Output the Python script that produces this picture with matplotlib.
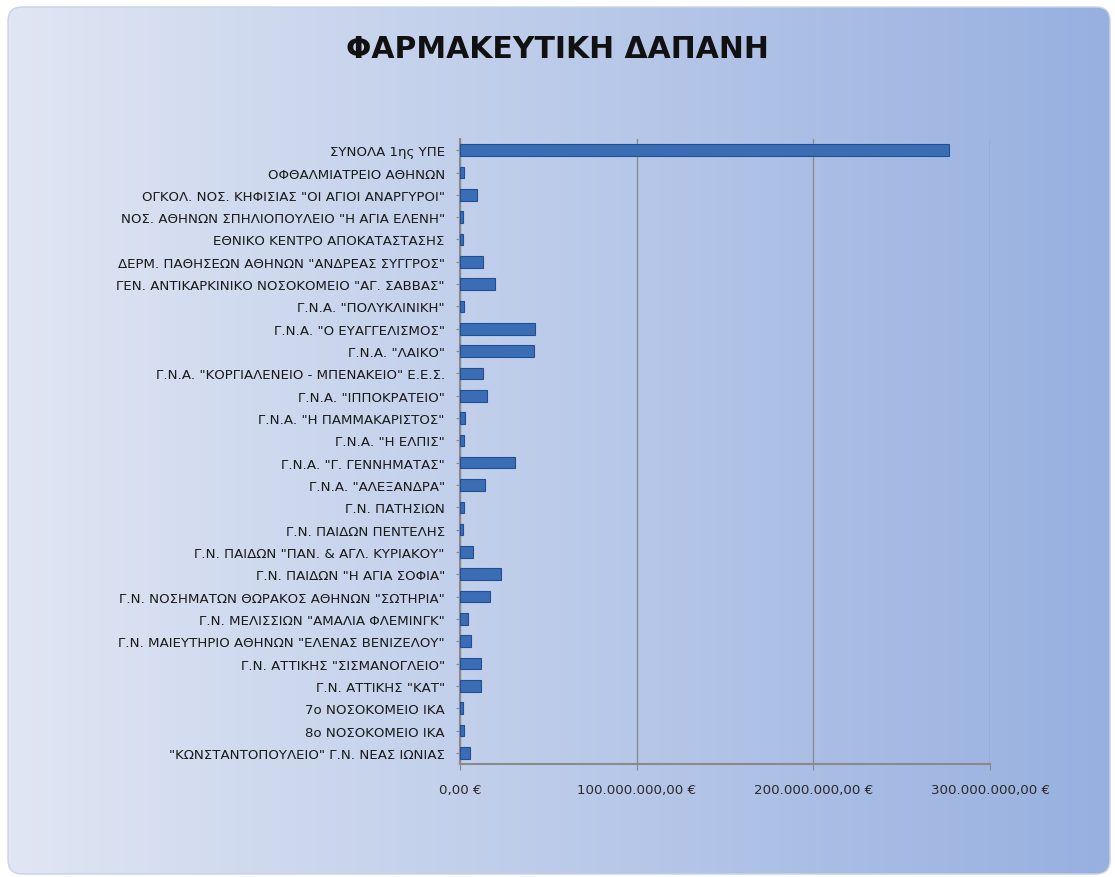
import matplotlib
matplotlib.use("Agg")
import matplotlib.pyplot as plt
import numpy as np
from matplotlib.patches import FancyBboxPatch

# hospitals (top to bottom as in the chart)
hospitals = [
    "ΣΥΝΟΛΑ 1ης ΥΠΕ",
    "ΟΦΘΑΛΜΙΑΤΡΕΙΟ ΑΘΗΝΩΝ",
    "ΟΓΚΟΛ. ΝΟΣ. ΚΗΦΙΣΙΑΣ \"ΟΙ ΑΓΙΟΙ ΑΝΑΡΓΥΡΟΙ\"",
    "ΝΟΣ. ΑΘΗΝΩΝ ΣΠΗΛΙΟΠΟΥΛΕΙΟ \"Η ΑΓΙΑ ΕΛΕΝΗ\"",
    "ΕΘΝΙΚΟ ΚΕΝΤΡΟ ΑΠΟΚΑΤΑΣΤΑΣΗΣ",
    "ΔΕΡΜ. ΠΑΘΗΣΕΩΝ ΑΘΗΝΩΝ \"ΑΝΔΡΕΑΣ ΣΥΓΓΡΟΣ\"",
    "ΓΕΝ. ΑΝΤΙΚΑΡΚΙΝΙΚΟ ΝΟΣΟΚΟΜΕΙΟ \"ΑΓ. ΣΑΒΒΑΣ\"",
    "Γ.Ν.Α. \"ΠΟΛΥΚΛΙΝΙΚΗ\"",
    "Γ.Ν.Α. \"Ο ΕΥΑΓΓΕΛΙΣΜΟΣ\"",
    "Γ.Ν.Α. \"ΛΑΙΚΟ\"",
    "Γ.Ν.Α. \"ΚΟΡΓΙΑΛΕΝΕΙΟ - ΜΠΕΝΑΚΕΙΟ\" Ε.Ε.Σ.",
    "Γ.Ν.Α. \"ΙΠΠΟΚΡΑΤΕΙΟ\"",
    "Γ.Ν.Α. \"Η ΠΑΜΜΑΚΑΡΙΣΤΟΣ\"",
    "Γ.Ν.Α. \"Η ΕΛΠΙΣ\"",
    "Γ.Ν.Α. \"Γ. ΓΕΝΝΗΜΑΤΑΣ\"",
    "Γ.Ν.Α. \"ΑΛΕΞΑΝΔΡΑ\"",
    "Γ.Ν. ΠΑΤΗΣΙΩΝ",
    "Γ.Ν. ΠΑΙΔΩΝ ΠΕΝΤΕΛΗΣ",
    "Γ.Ν. ΠΑΙΔΩΝ \"ΠΑΝ. & ΑΓΛ. ΚΥΡΙΑΚΟΥ\"",
    "Γ.Ν. ΠΑΙΔΩΝ \"Η ΑΓΙΑ ΣΟΦΙΑ\"",
    "Γ.Ν. ΝΟΣΗΜΑΤΩΝ ΘΩΡΑΚΟΣ ΑΘΗΝΩΝ \"ΣΩΤΗΡΙΑ\"",
    "Γ.Ν. ΜΕΛΙΣΣΙΩΝ \"ΑΜΑΛΙΑ ΦΛΕΜΙΝΓΚ\"",
    "Γ.Ν. ΜΑΙΕΥΤΗΡΙΟ ΑΘΗΝΩΝ \"ΕΛΕΝΑΣ ΒΕΝΙΖΕΛΟΥ\"",
    "Γ.Ν. ΑΤΤΙΚΗΣ \"ΣΙΣΜΑΝΟΓΛΕΙΟ\"",
    "Γ.Ν. ΑΤΤΙΚΗΣ \"ΚΑΤ\"",
    "7ο ΝΟΣΟΚΟΜΕΙΟ ΙΚΑ",
    "8ο ΝΟΣΟΚΟΜΕΙΟ ΙΚΑ",
    "\"ΚΩΝΣΤΑΝΤΟΠΟΥΛΕΙΟ\" Γ.Ν. ΝΕΑΣ ΙΩΝΙΑΣ",
]

# pharmaceutical expenditure, euros
spend = [
    277_000_000, 2_000_000, 9_500_000, 1_500_000, 1_500_000,
    13_000_000, 20_000_000, 2_500_000, 42_500_000, 42_000_000,
    13_000_000, 15_000_000, 3_000_000, 2_500_000, 31_000_000,
    14_000_000, 2_000_000, 1_500_000, 7_500_000, 23_000_000,
    17_000_000, 4_500_000, 6_000_000, 12_000_000, 12_000_000,
    1_500_000, 2_500_000, 5_500_000,
]

x_ticks = [0, 100_000_000, 200_000_000, 300_000_000]
x_tick_labels = ["0,00 €", "100.000.000,00 €", "200.000.000,00 €", "300.000.000,00 €"]

fig = plt.figure(figsize=(11.15, 8.78), dpi=100)
fig.patch.set_facecolor("white")

# gradient background panel
bg = fig.add_axes([0, 0, 1, 1])
bg.set_xlim(0, 1115)
bg.set_ylim(0, 878)
bg.axis("off")
grad = np.linspace(0, 1, 256).reshape(1, -1)
c0 = np.array([0xe0, 0xe6, 0xf3]) / 255
c1 = np.array([0x97, 0xb0, 0xe0]) / 255
img = c0 + (c1 - c0) * grad[..., None]
im = bg.imshow(img, extent=[8, 1110, 3, 870], aspect="auto", zorder=0)
panel = FancyBboxPatch((8, 3), 1102, 867, boxstyle="round,pad=0,rounding_size=14",
                       facecolor="none", edgecolor="#c8d2e6", linewidth=1.0, zorder=1)
bg.add_patch(panel)
im.set_clip_path(panel)

fig.text(0.5, 0.944, "ΦΑΡΜΑΚΕΥΤΙΚΗ ΔΑΠΑΝΗ", ha="center", va="center",
         fontsize=21.5, fontweight="bold", color="#111111", family="DejaVu Sans")

ax = fig.add_axes([0.4126, 0.1287, 0.4753, 0.7118])
ax.patch.set_alpha(0)
y = np.arange(len(hospitals))
ax.barh(y, spend, height=0.52, color="#3b6db4", edgecolor="#1f4f94", linewidth=0.8, zorder=3)
ax.set_ylim(len(hospitals) - 0.5, -0.5)
ax.set_xlim(0, 300_000_000)
ax.set_yticks(y)
ax.set_yticklabels(hospitals, fontsize=9.6, color="#1a1a1a")
ax.set_xticks(x_ticks)
ax.set_xticklabels(x_tick_labels, fontsize=9.6, color="#2a2a2a")
ax.tick_params(axis="y", length=3, color="#888888", pad=8)
ax.tick_params(axis="x", length=4, color="#888888", pad=10)
ax.grid(axis="x", color="#8c8c8c", linewidth=1.0, zorder=1)
for side in ["top", "right"]:
    ax.spines[side].set_visible(False)
for side in ["left", "bottom"]:
    ax.spines[side].set_color("#8a8a8a")
    ax.spines[side].set_linewidth(1.5)

fig.savefig("out.png", dpi=100)
